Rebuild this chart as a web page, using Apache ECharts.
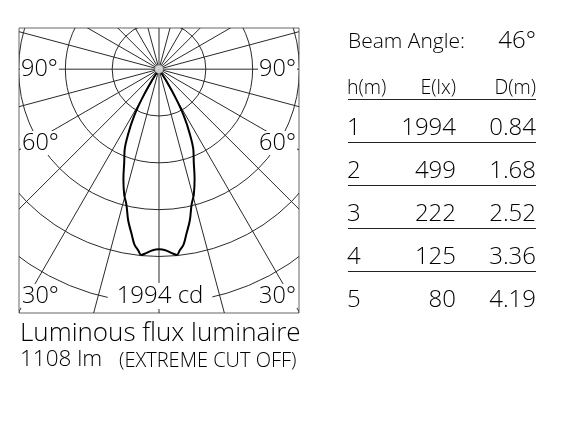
<!DOCTYPE html>
<html><head><meta charset="utf-8">
<script src="https://cdn.jsdelivr.net/npm/echarts@6/dist/echarts.min.js"></script>
<style>html,body{margin:0;padding:0;background:#fff}#c{width:564px;height:430px}</style>
</head><body><div id="c"></div>
<script>
// ---- data ----
const ringValues = [500, 1000, 1500, 2000, 2500, 3000];           // cd circles
const spokeAngles = [0, 15, 30, 45, 60, 75, 90, 105, 120, 135, 150, 165, 180, 195, 210, 225, 240, 255, 270, 285, 300, 315, 330, 345];
const curveAngles  = [0, 2, 4, 5.5, 6.5, 8, 9.5, 11.5, 13.5, 15.5, 18, 20.5, 23, 25.5, 28, 30, 32, 34];
const curveCandela = [1925, 1935, 1970, 1994, 1950, 1890, 1780, 1650, 1490, 1390, 1230, 1060, 940, 760, 565, 360, 150, 0];
const angleLabels = ['90°', '60°', '30°'];
const maxLabel = '1994 cd';
const beamAngle = '46°';
const tableHeader = ['h(m)', 'E(lx)', 'D(m)'];
const heights = ['1', '2', '3', '4', '5'];
const illuminance = ['1994', '499', '222', '125', '80'];
const diameters = ['0.84', '1.68', '2.52', '3.36', '4.19'];
const fluxTitle = 'Luminous flux luminaire';
const fluxValue = '1108 lm';
const fluxNote = '(EXTREME CUT OFF)';

// ---- build ----
const rad = d => d * Math.PI / 180;
const curve = [];
for (let i = curveAngles.length - 1; i >= 0; i--) {
  const a = rad(curveAngles[i]), v = curveCandela[i];
  curve.push([-v * Math.sin(a), -v * Math.cos(a)]);
}
for (let i = 1; i < curveAngles.length; i++) {
  const a = rad(curveAngles[i]), v = curveCandela[i];
  curve.push([v * Math.sin(a), -v * Math.cos(a)]);
}

const FONT = '"Open Sans", Lato, sans-serif';
const TXT = '#000';
function txt(text, x, y, size, align, pad) {
  const s = { text: text, x: x, y: y, font: '300 ' + size + 'px ' + FONT, fill: TXT, textAlign: align || 'left', textVerticalAlign: 'middle' };
  if (pad) { s.backgroundColor = '#fff'; s.padding = pad; }
  return { type: 'text', z: 100, style: s };
}
function hline(x1, x2, y) {
  return { type: 'line', z: 100, shape: { x1: x1, y1: y, x2: x2, y2: y }, style: { stroke: '#222', lineWidth: 1 } };
}

const graphics = [
  txt(angleLabels[0], 20, 69, 23.5, 'left', [0, 1]),
  txt(angleLabels[0], 297, 69, 23.5, 'right', [0, 1]),
  txt(angleLabels[1], 21, 143, 23.5, 'left', [0, 1]),
  txt(angleLabels[1], 297, 143, 23.5, 'right', [0, 1]),
  txt(angleLabels[2], 21, 296, 23.5, 'left', [0, 1]),
  txt(angleLabels[2], 297, 296, 23.5, 'right', [0, 1]),
  txt(maxLabel, 160, 296, 24, 'center', [1, 9]),
  txt('Beam Angle:', 348, 42, 21),
  txt(beamAngle, 536, 41, 24, 'right'),
  txt(tableHeader[0], 347, 88, 19.5),
  txt(tableHeader[1], 456, 88, 19.5, 'right'),
  txt(tableHeader[2], 536, 88, 19.5, 'right'),
  hline(348, 536, 99.5),
  txt(fluxTitle, 20, 333.5, 26),
  txt(fluxValue, 20, 360, 22.5),
  txt(fluxNote, 119, 361, 20)
];
const rowY = [128, 171, 214, 257, 300];
for (let i = 0; i < heights.length; i++) {
  graphics.push(txt(heights[i], 347, rowY[i], 24));
  graphics.push(txt(illuminance[i], 456, rowY[i], 24, 'right'));
  graphics.push(txt(diameters[i], 536, rowY[i], 24, 'right'));
  if (i < heights.length - 1) graphics.push(hline(348, 536, [142.5, 185.5, 228.5, 271.5][i]));
}

const chart = echarts.init(document.getElementById('c'), null, { renderer: 'canvas' });
chart.setOption({
  animation: false,
  backgroundColor: '#fff',
  grid: { left: 19, top: 28, width: 280, height: 285, show: true, borderColor: '#666', borderWidth: 1, backgroundColor: 'transparent' },
  xAxis: { type: 'value', min: -1495, max: 1495, show: false },
  yAxis: { type: 'value', min: -2605, max: 440, show: false },
  graphic: graphics,
  series: [
    {
      type: 'custom', clip: true, z: 1, silent: true,
      data: ringValues.map(v => [v, 0]),
      renderItem: function (params, api) {
        const c = api.coord([0, 0]);
        const r = api.size([api.value(0), 0])[0];
        return { type: 'circle', shape: { cx: c[0], cy: c[1], r: r }, style: { fill: 'none', stroke: '#2a2a2a', lineWidth: 1 } };
      }
    },
    {
      type: 'custom', clip: true, z: 1, silent: true,
      data: spokeAngles.map(a => [a, 0]),
      renderItem: function (params, api) {
        const a = rad(api.value(0)), R = 5000;
        const c = api.coord([0, 0]);
        const p = api.coord([R * Math.sin(a), -R * Math.cos(a)]);
        return { type: 'line', shape: { x1: c[0], y1: c[1], x2: p[0], y2: p[1] }, style: { stroke: '#2a2a2a', lineWidth: 1 } };
      }
    },
    {
      type: 'line', z: 5, data: curve, smooth: 0.35, symbol: 'none',
      lineStyle: { color: '#000', width: 2 }
    },
    {
      type: 'scatter', z: 6, data: [[0, 0]], symbolSize: 8,
      itemStyle: { color: '#fff', borderColor: '#999', borderWidth: 0.5 }
    }
  ]
});
</script>
</body></html>
